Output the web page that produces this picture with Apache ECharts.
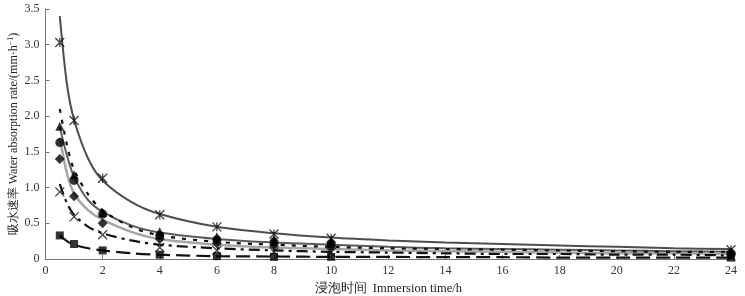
<!DOCTYPE html>
<html><head><meta charset="utf-8">
<script src="https://cdn.jsdelivr.net/npm/echarts@6/dist/echarts.min.js"></script>
<style>html,body{margin:0;padding:0;background:#fff}#c{width:745px;height:296px}</style>
</head><body><div id="c"></div>
<script>
// measured points
const hours = [0.5, 1, 2, 4, 6, 8, 10, 24];
const starPts = [3.03, 1.94, 1.13, 0.62, 0.45, 0.35, 0.29, 0.13];
const trianglePts = [1.86, 1.18, 0.65, 0.38, 0.31, 0.27, 0.25, 0.10];
const circlePts = [1.63, 1.10, 0.63, 0.33, 0.27, 0.24, 0.21, 0.08];
const diamondPts = [1.40, 0.88, 0.50, 0.28, 0.22, 0.19, 0.17, 0.06];
const crossPts = [0.94, 0.59, 0.34, 0.16, 0.12, 0.10, 0.09, 0.04];
const squarePts = [0.33, 0.21, 0.12, 0.06, 0.04, 0.03, 0.03, 0.02];
// fitted curves
const curveHours = [0.5, 0.75, 1, 1.5, 2, 3, 4, 6, 8, 10, 12, 14, 16, 18, 20, 22, 24];
const curveTop = [3.40, 2.45, 1.95, 1.40, 1.10, 0.80, 0.63, 0.45, 0.36, 0.30, 0.26, 0.23, 0.21, 0.19, 0.17, 0.15, 0.14];
const curveDark2 = [1.85, 1.45, 1.15, 0.82, 0.66, 0.47, 0.37, 0.28, 0.23, 0.20, 0.17, 0.15, 0.14, 0.13, 0.12, 0.11, 0.10];
const curveLight = [1.70, 1.20, 0.92, 0.68, 0.55, 0.38, 0.28, 0.20, 0.16, 0.14, 0.12, 0.11, 0.10, 0.09, 0.08, 0.08, 0.07];
const curveShortDash = [2.10, 1.60, 1.25, 0.90, 0.68, 0.45, 0.33, 0.24, 0.20, 0.17, 0.15, 0.14, 0.13, 0.12, 0.11, 0.10, 0.10];
const curveDashDot = [1.05, 0.78, 0.62, 0.45, 0.36, 0.26, 0.20, 0.15, 0.12, 0.10, 0.09, 0.08, 0.07, 0.07, 0.06, 0.06, 0.05];
const curveLongDash = [0.33, 0.25, 0.20, 0.15, 0.12, 0.08, 0.06, 0.04, 0.035, 0.03, 0.03, 0.025, 0.025, 0.02, 0.02, 0.02, 0.02];
const xTicks = [0,2,4,6,8,10,12,14,16,18,20,22,24];
const yTicks = [0,0.5,1.0,1.5,2.0,2.5,3.0,3.5];

const pair = (xs, ys) => xs.map((x, i) => [x, ys[i]]);
const SERIF = 'Liberation Serif, Times New Roman, serif';

function curve(data, color, width, type) {
  return {type:'line', data: pair(curveHours, data), smooth: 0.3, showSymbol:false, symbol:'none',
    lineStyle:{color, width, type}, z:2, silent:true};
}
function pts(data, symbol, size, stroke) {
  return {type:'scatter', data: pair(hours, data), symbol, symbolSize:size, z:5,
    itemStyle: stroke ? {color:'rgba(0,0,0,0)', borderColor:'#111', borderWidth:1.3} : {color:'#000'}};
}
const starPath = 'path://M0,0L10,10M10,0L0,10M5,0L5,10M0,0Z';
const crossPath = 'path://M0,0L10,10M10,0L0,10M0,0Z';

const chart = echarts.init(document.getElementById('c'), null, {renderer:'canvas'});
chart.setOption({
  animation:false,
  grid:{left:45.5, right:14, top:9, bottom:37, containLabel:false, outerBoundsMode:'none'},
  xAxis:{type:'value', min:0, max:24, interval:2,
    axisLine:{show:true, lineStyle:{color:'#777', width:1}},
    axisTick:{show:true, inside:true, length:4, lineStyle:{color:'#777'}},
    axisLabel:{color:'#333', fontFamily:SERIF, fontSize:12, margin:6},
    splitLine:{show:false},
    name:'浸泡时间  Immersion time/h', nameLocation:'middle', nameGap:21,
    nameTextStyle:{color:'#222', fontFamily:SERIF, fontSize:12.5}},
  yAxis:{type:'value', min:0, max:3.5, interval:0.5,
    axisLine:{show:true, lineStyle:{color:'#777', width:1}},
    axisTick:{show:true, inside:true, length:4, lineStyle:{color:'#777'}},
    axisLabel:{color:'#333', fontFamily:SERIF, fontSize:12, margin:6,
      formatter: v => v === 0 ? '0' : v.toFixed(1)},
    splitLine:{show:false},
    name:'{a|吸水速率 Water absorption rate/(mm·h}{s|−1}{a|)}', nameLocation:'middle', nameGap:25, nameRotate:90,
    nameMoveOverlap:false,
    nameTextStyle:{rich:{
      a:{color:'#222', fontFamily:SERIF, fontSize:12},
      s:{color:'#222', fontFamily:SERIF, fontSize:8, padding:[0,0,6,0]}}}},
  series:[
    curve(curveTop, '#4d4d4d', 2, 'solid'),
    curve(curveDark2, '#5a5a5a', 2, 'solid'),
    curve(curveLight, '#a6a6a6', 2.5, 'solid'),
    curve(curveShortDash, '#111', 2.2, [4,7]),
    curve(curveDashDot, '#111', 2.2, [11,5,3,5]),
    curve(curveLongDash, '#111', 2.2, [14,6]),
    pts(starPts, starPath, 9, true),
    pts(trianglePts, 'triangle', 9, false),
    pts(circlePts, 'circle', 9, false),
    pts(diamondPts, 'diamond', 10, false),
    pts(crossPts, crossPath, 9, true),
    pts(squarePts, 'rect', 8, false)
  ]
});
</script></body></html>
